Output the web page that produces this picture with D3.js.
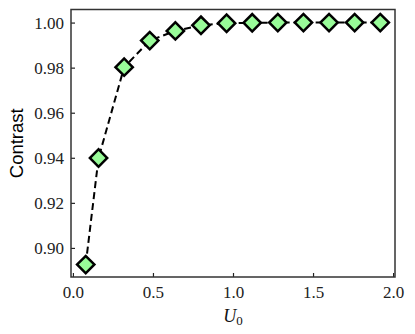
<!DOCTYPE html>
<html><head><meta charset="utf-8">
<script src="https://cdn.jsdelivr.net/npm/d3@7"></script>
<style>body{margin:0;background:#fff}svg{display:block}</style>
</head><body>
<script>
const u0 = [0.08, 0.16, 0.32, 0.48, 0.64, 0.80, 0.96, 1.12, 1.28, 1.44, 1.60, 1.76, 1.92];
const contrast = [0.8926, 0.9399, 0.9802, 0.9920, 0.9963, 0.9988, 0.9997, 0.9999, 1.0000, 1.0000, 1.0000, 1.0000, 1.0000];
const xTicks = [0.0, 0.5, 1.0, 1.5, 2.0];
const yTicks = [0.90, 0.92, 0.94, 0.96, 0.98, 1.00];

const W = 415, H = 334;
const L = 71, R = 395, T = 9.5, B = 277;
const svg = d3.select("body").append("svg").attr("width", W).attr("height", H);
const x = d3.scaleLinear().domain([-0.012, 2.012]).range([L, R]);
const y = d3.scaleLinear().domain([0.8871, 1.0058]).range([B, T]);

const serif = "'Liberation Serif', 'DejaVu Serif', serif";

const gx = svg.append("g").attr("transform", `translate(0,${B})`)
  .call(d3.axisBottom(x).tickValues(xTicks).tickFormat(d3.format(".1f")).tickSizeInner(-4).tickSizeOuter(0).tickPadding(9));
const gy = svg.append("g").attr("transform", `translate(${L},0)`)
  .call(d3.axisLeft(y).tickValues(yTicks).tickFormat(d3.format(".2f")).tickSizeInner(-4).tickSizeOuter(0).tickPadding(7));
[gx, gy].forEach(g => {
  g.select(".domain").remove();
  g.selectAll(".tick line").attr("stroke", "#222").attr("stroke-width", 1.2);
  g.selectAll(".tick text").attr("font-family", serif).attr("font-size", 17).attr("fill", "#222");
});

svg.append("rect").attr("x", L).attr("y", T).attr("width", R - L).attr("height", B - T)
  .attr("fill", "none").attr("stroke", "#333").attr("stroke-width", 1.5);

const pts = u0.map((d, i) => [d, contrast[i]]);
svg.append("path").datum(pts)
  .attr("d", d3.line().x(d => x(d[0])).y(d => y(d[1])))
  .attr("fill", "none").attr("stroke", "#000").attr("stroke-width", 2).attr("stroke-dasharray", "7,4");

const sym = d3.symbol().type(d3.symbolSquare).size(150);
svg.append("g").selectAll("path").data(pts).join("path")
  .attr("d", sym)
  .attr("transform", d => `translate(${x(d[0])},${y(d[1])}) rotate(45)`)
  .attr("fill", "#98fb98").attr("stroke", "#000").attr("stroke-width", 2.5);

svg.append("text").attr("transform", `translate(23,${(T + B) / 2}) rotate(-90)`)
  .attr("text-anchor", "middle").attr("font-family", "'Liberation Sans', Arial, sans-serif")
  .attr("font-size", 18.5).attr("fill", "#000").text("Contrast");

const xl = svg.append("text").attr("x", (L + R) / 2).attr("y", 322).attr("text-anchor", "middle")
  .attr("font-family", serif).attr("font-size", 18).attr("fill", "#111");
xl.append("tspan").attr("font-style", "italic").text("U");
xl.append("tspan").attr("font-size", 13).attr("dy", 3).text("0");
</script>
</body></html>
